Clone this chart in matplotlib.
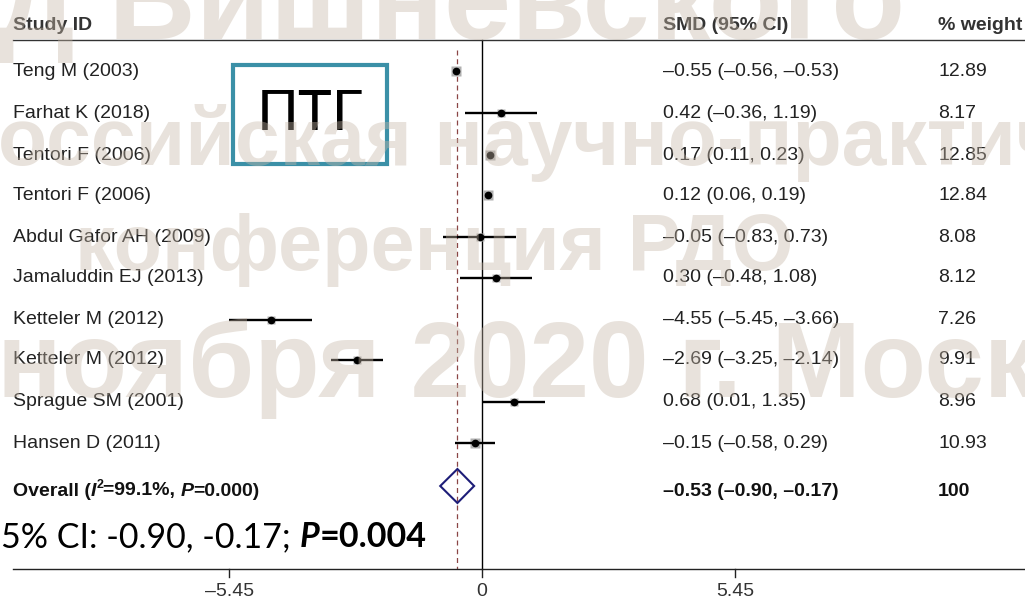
import numpy as np
import matplotlib
matplotlib.use('Agg')
import matplotlib.pyplot as plt
from matplotlib.patches import Rectangle, Polygon

# study-level results (standardised mean difference, 95% CI, weight)
studies = ['Teng M (2003)', 'Farhat K (2018)', 'Tentori F (2006)', 'Tentori F (2006)',
           'Abdul Gafor AH (2009)', 'Jamaluddin EJ (2013)', 'Ketteler M (2012)',
           'Ketteler M (2012)', 'Sprague SM (2001)', 'Hansen D (2011)']
smd = [-0.55, 0.42, 0.17, 0.12, -0.05, 0.30, -4.55, -2.69, 0.68, -0.15]
ci_low = [-0.56, -0.36, 0.11, 0.06, -0.83, -0.48, -5.45, -3.25, 0.01, -0.58]
ci_high = [-0.53, 1.19, 0.23, 0.19, 0.73, 1.08, -3.66, -2.14, 1.35, 0.29]
weights = [12.89, 8.17, 12.85, 12.84, 8.08, 8.12, 7.26, 9.91, 8.96, 10.93]

overall = -0.53
overall_low = -0.90
overall_high = -0.17

axis_ticks = [-5.45, 0, 5.45]
axis_labels = ['\u20135.45', '0', '5.45']

W, H = 1025, 602
ZERO_PX = 482
PX_PER_UNIT = 46.4
row_y = [71, 113, 155, 195, 237, 278, 320, 360, 402, 443]
overall_y = 486
axis_y = 569

def fmt(v):
    return '{:.2f}'.format(v).replace('-', '\u2013')

fig = plt.figure(figsize=(W / 100, H / 100), dpi=100)
fig.patch.set_facecolor('white')

# data axes: x in SMD units, y in pixel rows
ax = fig.add_axes([0, 0, 1, 1])
ax.set_xlim(-ZERO_PX / PX_PER_UNIT, (W - ZERO_PX) / PX_PER_UNIT)
ax.set_ylim(H, 0)
ax.axis('off')

# pixel axes for text, rules and the label box
axp = fig.add_axes([0, 0, 1, 1], facecolor='none')
axp.set_xlim(0, W)
axp.set_ylim(H, 0)
axp.axis('off')

txt_font = ['Liberation Sans', 'DejaVu Sans']
fs = 14

# rules
axp.plot([13, W], [40, 40], color='#333333', lw=1)
axp.plot([13, W], [axis_y, axis_y], color='#222222', lw=1)
ax.plot([0, 0], [40, axis_y], color='black', lw=1)
ax.plot([overall, overall], [50, axis_y], color='#8a4545', lw=0.9, dashes=(4, 3))

for t, lab in zip(axis_ticks, axis_labels):
    ax.plot([t, t], [axis_y, axis_y + 8], color='#222222', lw=1)
    ax.text(t, axis_y + 22, lab, ha='center', va='center', fontsize=fs,
            family=txt_font, color='#333333')

# study markers: grey weight square, CI line, point estimate
for y, m, lo, hi, w in zip(row_y, smd, ci_low, ci_high, weights):
    side = 10 * np.sqrt(w / 12.89)
    ax.plot([lo, hi], [y, y], color='black', lw=1.7, solid_capstyle='butt', zorder=3)
    ax.plot(m, y, marker='s', ms=side * 0.72, color='#b0b0b0', mec='none', zorder=2)
    ax.plot(m, y, marker='o', ms=4.5, color='black', zorder=4)

# pooled estimate diamond
diamond = Polygon([[overall_low, overall_y], [overall, overall_y - 17],
                   [overall_high, overall_y], [overall, overall_y + 17]],
                  closed=True, fill=False, edgecolor='#1d1d78', lw=1.5, zorder=4)
ax.add_patch(diamond)

# table text
for x, s in [(13, 'Study ID'), (663, 'SMD (95% CI)'), (938, '% weight')]:
    axp.text(x, 25, s, fontsize=fs, fontweight='bold', family=txt_font,
             color='#333333', va='center')

for y, name, m, lo, hi, w in zip(row_y, studies, smd, ci_low, ci_high, weights):
    axp.text(13, y, name, fontsize=fs, family=txt_font, color='#222222', va='center')
    axp.text(663, y, '{} ({}, {})'.format(fmt(m), fmt(lo), fmt(hi)), fontsize=fs,
             family=txt_font, color='#222222', va='center')
    axp.text(938, y, '{:.2f}'.format(w), fontsize=fs, family=txt_font,
             color='#222222', va='center')

renderer = fig.canvas.get_renderer()

def run_text(x, y, pieces, **common):
    # draws consecutive pieces of differently styled text on one line
    for s, kw in pieces:
        opts = dict(common)
        dy = kw.pop('dy', 0)
        opts.update(kw)
        t = axp.text(x, y + dy, s, **opts)
        x += t.get_window_extent(renderer).width
    return x

run_text(13, 491, [('Overall (', dict(fontweight='bold')),
                   ('I', dict(fontweight='bold', style='italic')),
                   ('2', dict(fontweight='bold', fontsize=9, dy=-6)),
                   ('=99.1%, ', dict(fontweight='bold')),
                   ('P', dict(fontweight='bold', style='italic')),
                   ('=0.000)', dict(fontweight='bold'))],
         fontsize=fs, family=txt_font, color='#111111', va='center')
axp.text(663, 491, '{} ({}, {})'.format(fmt(overall), fmt(overall_low), fmt(overall_high)),
         fontsize=fs, fontweight='bold', family=txt_font, color='#111111', va='center')
axp.text(938, 491, '100', fontsize=fs, fontweight='bold', family=txt_font,
         color='#111111', va='center')

# slide annotations
big_font = ['Lato', 'DejaVu Sans']
run_text(1, 547, [('5% CI: -0.90, -0.17; ', dict()),
                  ('P', dict(fontweight='bold', style='italic')),
                  ('=0.004', dict(fontweight='bold'))],
         fontsize=24.5, family=big_font, color='black', va='baseline')

axp.add_patch(Rectangle((233, 65), 154, 99, fill=False, edgecolor='#3b90a7', lw=3, zorder=5))
axp.text(310, 115, '\u041f\u0422\u0413', fontsize=41, family=big_font, color='black',
         ha='center', va='center', zorder=5)

# semi-transparent conference watermark
wm_font = ['Liberation Sans', 'DejaVu Sans']
wm = dict(fontweight='bold', family=wm_font, color=(0.78, 0.72, 0.66),
          alpha=0.4, va='baseline', transform=axp.transData, zorder=10)
fig.text(-2, 39, '\u0434 \u0412\u0438\u0448\u043d\u0435\u0432\u0441\u043a\u043e\u0433\u043e',
         fontsize=87, **wm)
fig.text(-2, 165, '\u043e\u0441\u0441\u0438\u0439\u0441\u043a\u0430\u044f '
         '\u043d\u0430\u0443\u0447\u043d\u043e-\u043f\u0440\u0430\u043a\u0442\u0438\u0447',
         fontsize=58, **wm)
fig.text(75, 270, '\u043a\u043e\u043d\u0444\u0435\u0440\u0435\u043d\u0446\u0438\u044f '
         '\u0420\u0414\u041e', fontsize=57, **wm)
fig.text(-3, 397, '\u043d\u043e\u044f\u0431\u0440\u044f 2020 \u0433. '
         '\u041c\u043e\u0441\u043a', fontsize=77, **wm)

fig.savefig('out.png', dpi=100, facecolor='white')
